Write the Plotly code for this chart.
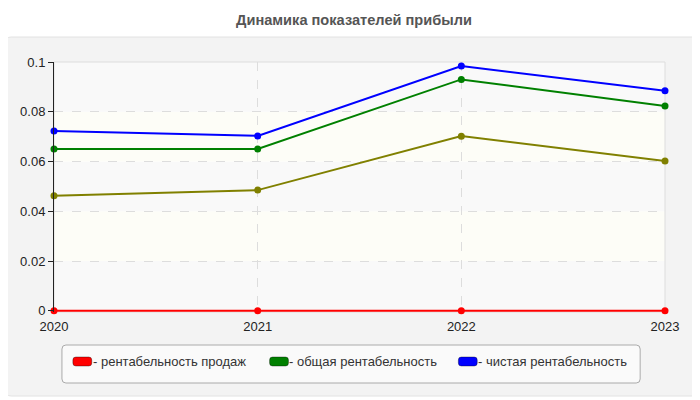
import plotly.graph_objects as go

years = [2020, 2021, 2022, 2023]
sales_margin = [0, 0, 0, 0]
other_margin = [0.0462, 0.0485, 0.0702, 0.0602]
total_margin = [0.065, 0.065, 0.093, 0.0823]
net_margin = [0.0723, 0.0703, 0.0984, 0.0884]
y_ticks = [0, 0.02, 0.04, 0.06, 0.08, 0.1]
y_tick_labels = ["0", "0.02", "0.04", "0.06", "0.08", "0.1"]

series_names = ["- рентабельность продаж", "", "- общая рентабельность", "- чистая рентабельность"]
series_values = [sales_margin, other_margin, total_margin, net_margin]
series_colors = ["#ff0000", "#808000", "#008000", "#0000ff"]

FONT = "Liberation Sans, Arial, sans-serif"

# the page has an 8px body margin, so work in page pixels and convert
L, R, T, B = 50, 665, 62, 312  # plot area in page pixels
Y_MIN = -0.0005  # a little room so the zero line is not clipped


def px(x):
    return (x - L) / (R - L)


def py(y):
    return (B - y) / (B - T)


def rounded_rect(x0, y0, x1, y1, r=4):
    """Rounded rectangle path in paper coords from page pixels."""
    pts = [
        f"M {px(x0 + r)} {py(y0)}", f"L {px(x1 - r)} {py(y0)}",
        f"Q {px(x1)} {py(y0)} {px(x1)} {py(y0 + r)}",
        f"L {px(x1)} {py(y1 - r)}",
        f"Q {px(x1)} {py(y1)} {px(x1 - r)} {py(y1)}",
        f"L {px(x0 + r)} {py(y1)}",
        f"Q {px(x0)} {py(y1)} {px(x0)} {py(y1 - r)}",
        f"L {px(x0)} {py(y0 + r)}",
        f"Q {px(x0)} {py(y0)} {px(x0 + r)} {py(y0)}", "Z",
    ]
    return " ".join(pts)


fig = go.Figure()

for vals, color in zip(series_values, series_colors):
    fig.add_trace(go.Scatter(
        x=years, y=vals,
        mode="lines+markers",
        line=dict(color=color, width=2),
        marker=dict(color=color, size=7),
        cliponaxis=False,
        showlegend=False,
        hoverinfo="skip",
    ))

shapes = [
    # outer grey panel
    dict(type="path", xref="paper", yref="paper", layer="below",
         path=rounded_rect(1, 37, 698, 396, r=6),
         fillcolor="#f3f3f3", line=dict(color="#e2e2e2", width=1)),
    dict(type="rect", xref="paper", yref="paper", layer="below",
         x0=0, x1=1, y0=0, y1=1,
         fillcolor="#ffffff", line=dict(width=0)),
]
# alternating horizontal bands
for i in range(len(y_ticks) - 1):
    shapes.append(dict(
        type="rect", xref="paper", yref="y", layer="below",
        x0=0, x1=1, y0=y_ticks[i], y1=y_ticks[i + 1],
        fillcolor="#f9f9f9" if i % 2 == 0 else "#fdfdf7",
        line=dict(width=0),
    ))
# plot border (top / right)
shapes.append(dict(type="rect", xref="paper", yref="paper", layer="below",
                   x0=0, x1=1, y0=0, y1=1,
                   fillcolor="rgba(0,0,0,0)", line=dict(color="#dddddd", width=1)))

# legend box with coloured chips
shapes.append(dict(type="path", xref="paper", yref="paper", layer="above",
                   path=rounded_rect(58, 345, 640, 383, r=4),
                   fillcolor="#fafafa", line=dict(color="#aaaaaa", width=1)))

legend_x = [69, None, 267, 457]
annotations = []
for name, color, lx in zip(series_names, series_colors, legend_x):
    if lx is None:
        continue
    shapes.append(dict(type="path", xref="paper", yref="paper", layer="above",
                       path=rounded_rect(lx, 357, lx + 19, 366, r=3),
                       fillcolor=color, line=dict(color="rgba(0,0,0,0.35)", width=1)))
    annotations.append(dict(
        x=px(lx + 18), y=py(361.5), xref="paper", yref="paper",
        xanchor="left", yanchor="middle", showarrow=False,
        text=name, font=dict(family=FONT, size=13, color="#333333"),
    ))

fig.update_layout(
    width=692, height=392,
    margin=dict(l=L - 8, r=700 - R, t=T - 8, b=400 - B),
    paper_bgcolor="white",
    plot_bgcolor="rgba(0,0,0,0)",
    font=dict(family=FONT, size=13, color="#222222"),
    title=dict(
        text="<b>Динамика показателей прибыли</b>",
        x=0.5, xanchor="center", y=1 - 12 / 392, yanchor="middle",
        font=dict(family=FONT, size=14.6, color="#555555"),
    ),
    shapes=shapes,
    annotations=annotations,
    showlegend=False,
    xaxis=dict(
        range=[2020, 2023],
        tickvals=years,
        ticktext=[str(y) for y in years],
        showgrid=True, gridcolor="#dddddd", griddash="dash", gridwidth=1,
        zeroline=False, showline=False,
        ticks="", ticklabelstandoff=5, tickfont=dict(size=13),
    ),
    yaxis=dict(
        range=[Y_MIN, 0.1],
        tickvals=y_ticks,
        ticktext=y_tick_labels,
        showgrid=True, gridcolor="#dddddd", griddash="dash", gridwidth=1,
        zeroline=False,
        showline=True, linecolor="#222222", linewidth=1,
        ticks="outside", ticklen=5, tickcolor="#222222",
        tickfont=dict(size=13),
    ),
)

fig.write_html("out.html")
